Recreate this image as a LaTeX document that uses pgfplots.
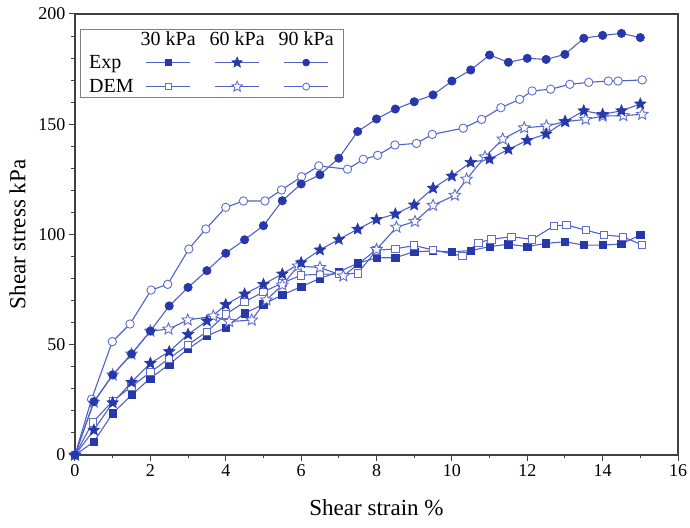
\documentclass[border=0pt]{standalone}
\usepackage{pgfplots}
\pgfplotsset{compat=1.18}
\usetikzlibrary{plotmarks}
\usepackage{fontspec}
\setmainfont{Liberation Serif}
\definecolor{mk}{RGB}{38,56,170}
\definecolor{ln}{RGB}{80,98,198}
\definecolor{op}{RGB}{95,110,205}
\pgfdeclareplotmark{fstar}{%
  \pgfpathmoveto{\pgfqpointpolar{90}{\pgfplotmarksize}}%
  \pgfpathlineto{\pgfqpointpolar{126}{0.45\pgfplotmarksize}}%
  \pgfpathlineto{\pgfqpointpolar{162}{\pgfplotmarksize}}%
  \pgfpathlineto{\pgfqpointpolar{198}{0.45\pgfplotmarksize}}%
  \pgfpathlineto{\pgfqpointpolar{234}{\pgfplotmarksize}}%
  \pgfpathlineto{\pgfqpointpolar{270}{0.45\pgfplotmarksize}}%
  \pgfpathlineto{\pgfqpointpolar{306}{\pgfplotmarksize}}%
  \pgfpathlineto{\pgfqpointpolar{342}{0.45\pgfplotmarksize}}%
  \pgfpathlineto{\pgfqpointpolar{18}{\pgfplotmarksize}}%
  \pgfpathlineto{\pgfqpointpolar{54}{0.45\pgfplotmarksize}}%
  \pgfpathclose
  \pgfusepathqfillstroke}
\pgfplotsset{
 expst/.style={draw=ln, line width=1.1pt, mark options={solid, fill=mk, draw=mk, line width=0.6pt}},
 demst/.style={draw=ln, line width=1.1pt, mark options={solid, fill=white, draw=op, line width=0.9pt}},
}
\begin{document}
\begin{tikzpicture}
\begin{axis}[
 scale only axis, width=603pt, height=441pt,
 xmin=0, xmax=16, ymin=0, ymax=200,
 xtick={0,2,...,16}, ytick={0,50,...,200},
 minor x tick num=1, minor y tick num=4,
 tick align=outside, xtick pos=bottom, ytick pos=left,
 major tick length=6pt, minor tick length=3.5pt,
 axis line style={draw=black!75, line width=1.3pt},
 every tick/.style={black!75, line width=1pt},
 tick label style={font=\fontsize{18}{20}\selectfont},
 /pgf/number format/assume math mode=true,
 xlabel={Shear strain \%}, ylabel={Shear stress kPa},
 label style={font=\fontsize{23}{26}\selectfont},
 xlabel style={yshift=-16pt},
 ylabel style={yshift=6pt},
 legend columns=4,
 legend image code/.code={\draw[mark repeat=2,mark phase=2,#1] plot coordinates {(0pt,0pt) (22pt,0pt) (44pt,0pt)};},
 legend style={at={(0.008,0.966)}, anchor=north west, draw=black!50, line width=0.8pt,
   font=\fontsize{20}{22}\selectfont, inner sep=2pt, column sep=6pt, row sep=7.5pt,
   nodes={inner sep=1pt}},
 legend cell align=left,
]
% Exp 30
\addplot[expst, mark=square*, mark size=3.7pt, forget plot] coordinates {
(0,0)(0.5,6)(1,18.9)(1.5,27.2)(2,34.8)(2.5,41.1)(3,48.1)(3.5,54)(4,57.7)(4.5,64.3)(5,68.3)(5.5,72.6)(6,76.3)(6.5,80.1)(7,83.1)(7.5,86.9)(8,89.4)(8.5,89.5)(9,92.2)(9.5,92.5)(10,92.2)(10.5,92.7)(11,94.5)(11.5,95.6)(12,94.5)(12.5,96)(13,96.7)(13.5,95.2)(14,95.2)(14.5,95.7)(15,99.8)};
% DEM 30
\addplot[demst, mark=square*, mark size=3.7pt, forget plot] coordinates {
(0,0)(0.47,14.8)(1,24.5)(1.5,31)(2,37.6)(2.5,43.8)(3,50)(3.5,55.9)(4,63.8)(4.5,69.4)(5,74)(5.5,78)(6,81.5)(6.5,82)(7,82)(7.5,82.4)(8,92.8)(8.5,93.5)(9,95)(9.5,93)(10.28,90.2)(10.7,96.3)(11.05,97.8)(11.58,99)(12.13,97.8)(12.71,103.9)(13.04,104.3)(13.55,102)(14.04,99.8)(14.54,99)(15.05,95.2)};
% DEM 60
\addplot[demst, mark=fstar, mark size=6pt, forget plot] coordinates {
(0,0)(0.5,24)(1,36.3)(1.5,45.8)(2,56.2)(2.48,57.1)(2.99,61.2)(3.67,63)(4.09,60.5)(4.69,61.2)(5.08,70.3)(5.5,77.1)(5.92,85.7)(6.5,85)(7.12,81.2)(8,93.2)(8.53,103.3)(9.02,105.9)(9.5,113.2)(10.08,117.8)(10.39,125.1)(10.88,135.2)(11.35,143.3)(11.92,148.4)(12.51,149.2)(13.01,151.2)(13.55,152.2)(14,153.7)(14.55,153.9)(15.05,154.5)};
% Exp 60
\addplot[expst, mark=fstar, mark size=6pt, forget plot] coordinates {
(0,0)(0.5,11.3)(1,23.7)(1.5,33)(2,41.6)(2.5,46.9)(3,54.7)(3.5,60.8)(4,68.2)(4.5,73)(5,77.4)(5.5,82.1)(6,87.2)(6.5,93)(7,97.8)(7.5,102.4)(8,106.8)(8.5,109.3)(9,113.4)(9.5,121)(10,126.5)(10.5,132.7)(11,134.2)(11.5,138.6)(12,142.7)(12.5,145.6)(13,151.2)(13.5,156.1)(14,154.5)(14.5,156.1)(15,159.2)};
% DEM 90
\addplot[demst, mark=*, mark size=4.2pt, forget plot] coordinates {
(0,0)(0.44,25.3)(0.99,51.4)(1.46,59.4)(2.02,74.8)(2.46,77.4)(3.02,93.4)(3.47,102.5)(4,112.3)(4.47,115.2)(5.04,115.2)(5.48,120.2)(6.01,126.2)(6.47,131.1)(7.23,129.6)(7.65,134.1)(8.03,135.9)(8.49,140.6)(9.06,141.3)(9.48,145.4)(10.3,148.2)(10.79,152.2)(11.3,157.5)(11.8,161.3)(12.13,165.1)(12.62,165.9)(13.13,168.1)(13.63,169)(14.15,169.6)(14.41,169.6)(15.05,170.1)};
% Exp 90
\addplot[expst, mark=*, mark size=4.2pt, forget plot] coordinates {
(0,0)(0.5,24.2)(1,36.3)(1.5,45.8)(2,56.2)(2.5,67.6)(3,76)(3.5,83.6)(4,91.5)(4.5,97.6)(5,104)(5.5,115.3)(6,122.9)(6.5,127.1)(7,134.6)(7.5,146.7)(8,152.4)(8.5,156.9)(9,160.2)(9.5,163.3)(10,169.6)(10.5,174.6)(11,181.4)(11.5,178.1)(12,179.9)(12.5,179.4)(13,181.7)(13.5,189)(14,190.3)(14.5,191.2)(15,189.3)};
% legend
\addlegendimage{empty legend}\addlegendentry{}
\addlegendimage{legend image code/.code={\node[inner sep=0pt,anchor=base] at (22pt,-6pt) {30 kPa};}}\addlegendentry{}
\addlegendimage{legend image code/.code={\node[inner sep=0pt,anchor=base] at (22pt,-6pt) {60 kPa};}}\addlegendentry{}
\addlegendimage{legend image code/.code={\node[inner sep=0pt,anchor=base] at (22pt,-6pt) {90 kPa};}}\addlegendentry{}
\addlegendimage{empty legend}\addlegendentry{Exp}
\addlegendimage{expst, mark=square*, mark size=3.2pt}\addlegendentry{}
\addlegendimage{expst, mark=fstar, mark size=5.5pt}\addlegendentry{}
\addlegendimage{expst, mark=*, mark size=3.5pt}\addlegendentry{}
\addlegendimage{empty legend}\addlegendentry{DEM}
\addlegendimage{demst, mark=square*, mark size=3.2pt}\addlegendentry{}
\addlegendimage{demst, mark=fstar, mark size=5.5pt}\addlegendentry{}
\addlegendimage{demst, mark=*, mark size=3.5pt}\addlegendentry{}
\end{axis}
\pgfresetboundingbox
\path ([shift={(-75pt,-73pt)}]current axis.south west) rectangle ([shift={(12pt,14pt)}]current axis.north east);
\end{tikzpicture}
\end{document}
